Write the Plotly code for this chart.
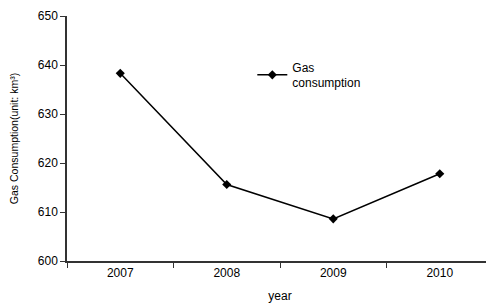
import plotly.graph_objects as go

years = ["2007", "2008", "2009", "2010"]
gas = [638.3, 615.6, 608.6, 617.8]
y_ticks = [600, 610, 620, 630, 640, 650]

fig = go.Figure()
fig.add_trace(go.Scatter(
    x=years, y=gas, mode="lines+markers", name="Gas<br>consumption",
    line=dict(color="black", width=1.5),
    marker=dict(symbol="diamond", size=7, color="black"),
))

font = "Liberation Sans, Arial, sans-serif"
# page body has an 8px margin; figure sized so it fits in the 494x304 window
fig.update_layout(
    width=486, height=296,
    margin=dict(l=59, r=1, t=6, b=43),
    paper_bgcolor="white", plot_bgcolor="white",
    font=dict(family=font, size=12, color="black"),
    showlegend=True,
    legend=dict(x=0.435, y=0.85, xanchor="left", yanchor="top",
                bgcolor="rgba(0,0,0,0)", font=dict(size=12)),
    xaxis=dict(type="category", range=[-0.5, 3.5], tickson="boundaries",
               ticks="outside", ticklen=5, tickcolor="#333", showline=True,
               linecolor="#333", linewidth=1.5, showgrid=False, zeroline=False,
               title=dict(text="year", standoff=12, font=dict(size=12)),
               tickfont=dict(size=12)),
    yaxis=dict(range=[600, 650], tickvals=y_ticks, ticks="outside", ticklen=5,
               tickcolor="#333", showline=True, linecolor="#333", linewidth=1.5,
               showgrid=False, zeroline=False, ticklabeloverflow="allow",
               title=dict(text="Gas Consumption(unit: km³)", standoff=17,
                          font=dict(size=10.5)),
               tickfont=dict(size=12)),
)

fig.write_html("out.html")
